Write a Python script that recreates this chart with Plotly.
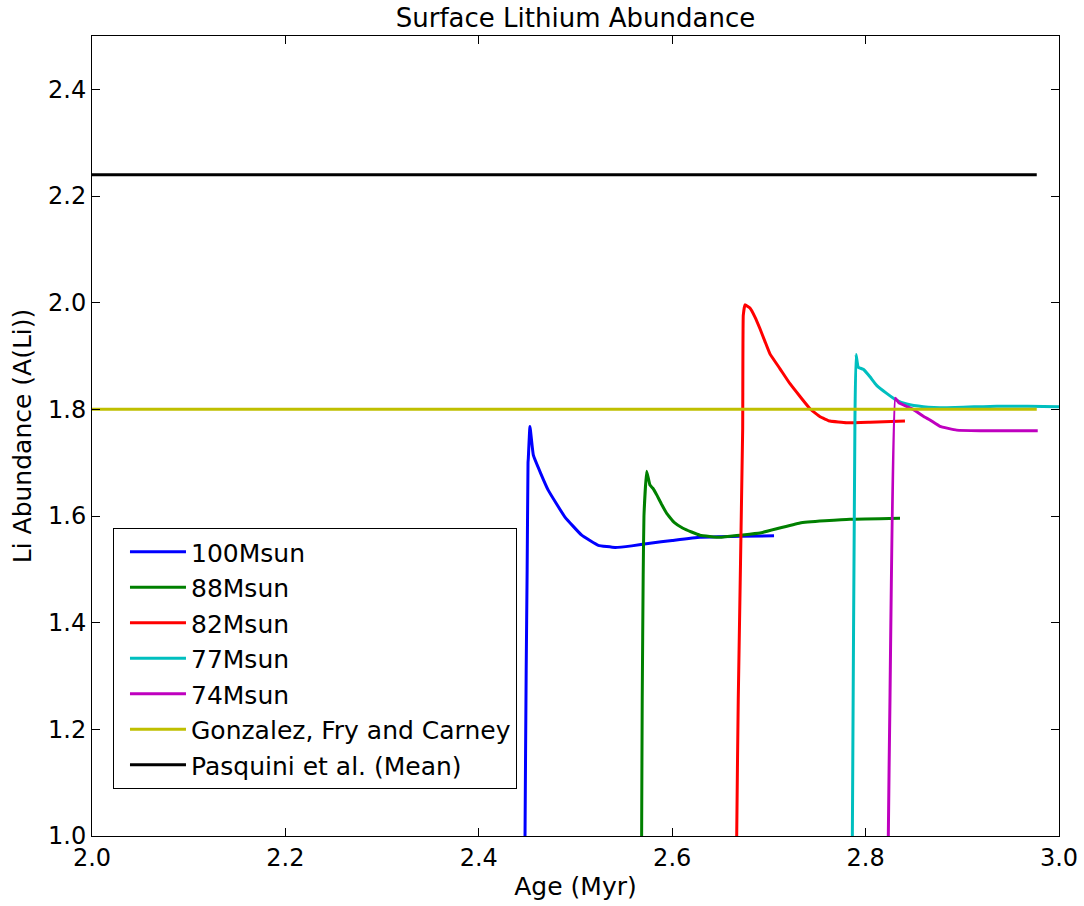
import plotly.graph_objects as go

# 100 Msun
age_100 = [2.4476, 2.4478, 2.4490, 2.4500, 2.4509, 2.4512, 2.4529, 2.4564, 2.4640, 2.4719, 2.4891, 2.5064,
           2.5236, 2.5409, 2.5581, 2.5770, 2.6000, 2.6287, 2.6701, 2.7053]
li_100 = [0.50, 1.00, 1.31, 1.50, 1.700, 1.708, 1.768, 1.714, 1.680, 1.648, 1.598, 1.564,
          1.545, 1.541, 1.544, 1.549, 1.554, 1.560, 1.562, 1.563]

# 88 Msun
age_88 = [2.5682, 2.5684, 2.5690, 2.5700, 2.5708, 2.5736, 2.5770, 2.5800, 2.5839, 2.5890, 2.5943, 2.6020,
          2.6111, 2.6200, 2.6287, 2.6494, 2.6701, 2.6908, 2.7322, 2.7839, 2.8356]
li_88 = [0.50, 1.00, 1.255, 1.49, 1.60, 1.684, 1.658, 1.652, 1.640, 1.622, 1.605, 1.588,
         1.577, 1.570, 1.564, 1.560, 1.564, 1.568, 1.587, 1.594, 1.596]

# 82 Msun
age_82 = [2.6665, 2.6667, 2.6683, 2.6729, 2.6735, 2.6753, 2.6804, 2.6856, 2.6908, 2.6960, 2.7011, 2.7115,
          2.7218, 2.7322, 2.7425, 2.7529, 2.7632, 2.7804, 2.8046, 2.8407]
li_82 = [0.50, 1.00, 1.255, 1.764, 1.976, 1.996, 1.990, 1.973, 1.951, 1.927, 1.904, 1.876,
         1.848, 1.824, 1.801, 1.786, 1.778, 1.775, 1.776, 1.778]

# 77 Msun
age_77 = [2.7861, 2.7863, 2.7890, 2.7901, 2.7924, 2.7976, 2.8045, 2.8114, 2.8218, 2.8321, 2.8425, 2.8597,
          2.8839, 2.9356, 3.0000, 3.0200]
li_77 = [0.50, 1.00, 1.785, 1.903, 1.879, 1.875, 1.861, 1.845, 1.830, 1.817, 1.810, 1.805,
         1.803, 1.806, 1.805, 1.805]

# 74 Msun
age_74 = [2.8233, 2.8235, 2.8252, 2.8307, 2.8345, 2.8493, 2.8597, 2.8666, 2.8769, 2.8942, 2.9183, 2.9780]
li_74 = [0.50, 1.00, 1.255, 1.821, 1.812, 1.800, 1.787, 1.780, 1.768, 1.761, 1.760, 1.760]

# reference lines
ref_age = [2.0, 2.977]
gonzalez = [1.80, 1.80]
pasquini = [2.24, 2.24]

x_ticks = [2.0, 2.2, 2.4, 2.6, 2.8, 3.0]
y_ticks = [1.0, 1.2, 1.4, 1.6, 1.8, 2.0, 2.2, 2.4]

series = [
    ("100Msun", age_100, li_100, "#0000ff"),
    ("88Msun", age_88, li_88, "#008000"),
    ("82Msun", age_82, li_82, "#ff0000"),
    ("77Msun", age_77, li_77, "#00bfbf"),
    ("74Msun", age_74, li_74, "#bf00bf"),
    ("Gonzalez, Fry and Carney", ref_age, gonzalez, "#bfbf00"),
    ("Pasquini et al. (Mean)", ref_age, pasquini, "#000000"),
]

fig = go.Figure()
for i, (name, x, y, c) in enumerate(series):
    fig.add_trace(go.Scatter(x=x, y=y, mode="lines", name=name, legendgroup=f"g{i}",
                             line=dict(color=c, width=3, shape="spline", smoothing=0.3)))

font = "DejaVu Sans, sans-serif"
fig.update_layout(
    width=1084, height=906,
    margin=dict(l=92, r=25, t=36, b=70, autoexpand=False),
    paper_bgcolor="white", plot_bgcolor="white",
    font=dict(family=font, size=25, color="black"),
    title=dict(text="Surface Lithium Abundance", xref="paper", x=0.5, xanchor="center",
               y=1 - 18 / 906, yanchor="middle", font=dict(size=26)),
    showlegend=True,
    legend=dict(x=0.0217, y=0.05875, xanchor="left", yanchor="bottom",
                bordercolor="black", borderwidth=1, bgcolor="white",
                font=dict(size=25), tracegroupgap=0, itemwidth=56, indentation=11),
    xaxis=dict(range=[2.0, 3.0], tickvals=x_ticks, tickformat=".1f",
               ticks="inside", ticklen=8, tickcolor="black", mirror="ticks",
               showline=True, linecolor="black", linewidth=1, automargin=False,
               showgrid=False, zeroline=False, tickfont=dict(size=24),
               title=dict(text="Age (Myr)", standoff=6, font=dict(size=25))),
    yaxis=dict(range=[1.0, 2.5], tickvals=y_ticks, tickformat=".1f",
               ticks="inside", ticklen=8, tickcolor="black", mirror="ticks",
               showline=True, linecolor="black", linewidth=1, automargin=False,
               showgrid=False, zeroline=False, tickfont=dict(size=24),
               title=dict(text="Li Abundance (A(Li))", standoff=9, font=dict(size=25))),
)

fig.write_html("out.html")
